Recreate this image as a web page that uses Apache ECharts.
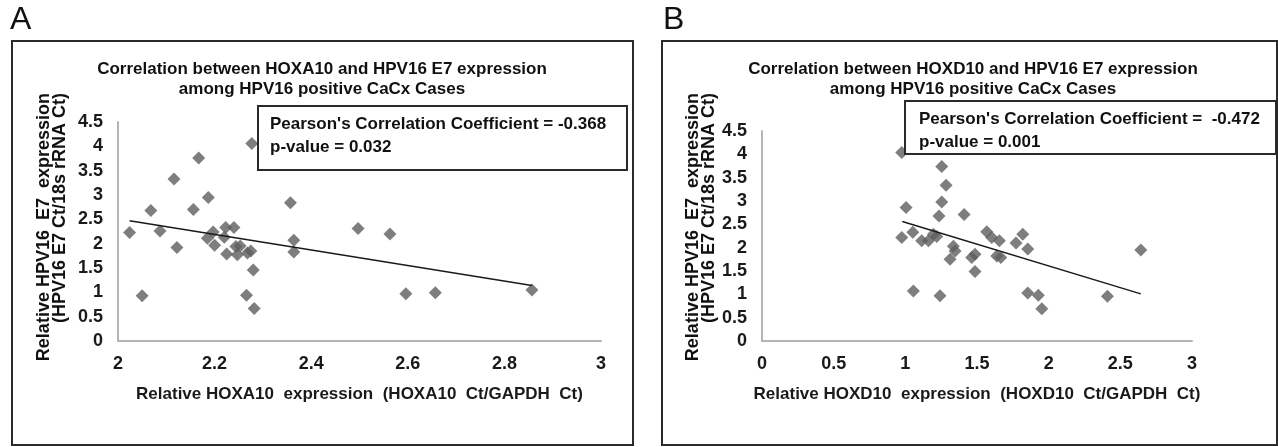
<!DOCTYPE html>
<html>
<head>
<meta charset="utf-8">
<script src="https://cdn.jsdelivr.net/npm/echarts@6/dist/echarts.min.js"></script>
<style>
html,body{margin:0;padding:0;background:#fff;}
#chart{width:1278px;height:447px;}
</style>
</head>
<body>
<div id="chart"></div>
<script>
// Panel A: HOXA10 vs HPV16 E7
var hoxa10 = [2.024, 2.050, 2.068, 2.087, 2.122, 2.116, 2.156, 2.167, 2.187, 2.185, 2.197, 2.200, 2.223, 2.220, 2.225, 2.240, 2.244, 2.253, 2.247, 2.268, 2.275, 2.280, 2.266, 2.282, 2.277, 2.357, 2.364, 2.364, 2.497, 2.563, 2.596, 2.657, 2.857];
var e7A    = [2.23, 0.93, 2.68, 2.26, 1.92, 3.33, 2.70, 3.76, 2.95, 2.11, 2.24, 1.97, 2.33, 2.13, 1.79, 2.33, 1.94, 1.95, 1.77, 1.81, 1.85, 1.46, 0.94, 0.67, 4.06, 2.84, 2.07, 1.83, 2.31, 2.20, 0.97, 0.99, 1.05];
var trendAx = [2.024, 2.857];
var trendAy = [2.47, 1.14];

// Panel B: HOXD10 vs HPV16 E7
var hoxd10 = [0.975, 1.254, 1.284, 1.254, 1.005, 1.235, 1.410, 0.975, 1.052, 1.114, 1.161, 1.196, 1.219, 1.335, 1.347, 1.312, 1.463, 1.486, 1.486, 1.056, 1.242, 1.568, 1.603, 1.656, 1.638, 1.666, 1.819, 1.772, 1.854, 1.854, 1.928, 1.952, 2.410, 2.643];
var e7B    = [4.04, 3.74, 3.34, 2.98, 2.86, 2.68, 2.71, 2.22, 2.33, 2.15, 2.15, 2.29, 2.24, 2.03, 1.93, 1.75, 1.79, 1.86, 1.49, 1.07, 0.97, 2.34, 2.22, 2.15, 1.82, 1.79, 2.29, 2.10, 1.97, 1.03, 0.98, 0.69, 0.96, 1.95];
var trendBx = [0.979, 2.643];
var trendBy = [2.56, 1.01];

var titleA = ['Correlation between HOXA10 and HPV16 E7 expression', 'among HPV16 positive CaCx Cases'];
var titleB = ['Correlation between HOXD10 and HPV16 E7 expression', 'among HPV16 positive CaCx Cases'];
var statsA = ["Pearson's Correlation Coefficient = -0.368", 'p-value = 0.032'];
var statsB = ["Pearson's Correlation Coefficient =  -0.472", 'p-value = 0.001'];
var xNameA = 'Relative HOXA10  expression  (HOXA10  Ct/GAPDH  Ct)';
var xNameB = 'Relative HOXD10  expression  (HOXD10  Ct/GAPDH  Ct)';
var yName1 = 'Relative HPV16  E7  expression';
var yName2 = '(HPV16 E7 Ct/18s rRNA Ct)';

function zip(a, b) { return a.map(function (v, i) { return [v, b[i]]; }); }

var NARROW = "'Liberation Sans Narrow','Arial Narrow','Liberation Sans',sans-serif";
var WIDE = "'Liberation Sans',Arial,sans-serif";

var chart = echarts.init(document.getElementById('chart'));

function axisX(idx, min, max, interval, name) {
  return {
    type: 'value', gridIndex: idx, min: min, max: max, interval: interval,
    name: name, nameLocation: 'middle', nameGap: 45,
    nameTextStyle: { fontFamily: NARROW, fontWeight: 'bold', fontSize: 17, color: '#1a1a1a' },
    axisLine: { show: true, lineStyle: { color: '#b4b4b4', width: 2 } },
    axisTick: { show: false }, splitLine: { show: false },
    axisLabel: { fontFamily: NARROW, fontWeight: 'bold', fontSize: 18, color: '#1a1a1a', margin: 14 }
  };
}
function axisY(idx) {
  return {
    type: 'value', gridIndex: idx, min: 0, max: 4.5, interval: 0.5,
    axisLine: { show: true, lineStyle: { color: '#b4b4b4', width: 2 } },
    axisTick: { show: false }, splitLine: { show: false },
    axisLabel: { fontFamily: NARROW, fontWeight: 'bold', fontSize: 18, color: '#1a1a1a', margin: 15 }
  };
}

function scatter(idx, xs, ys) {
  return {
    type: 'scatter', xAxisIndex: idx, yAxisIndex: idx, data: zip(xs, ys),
    symbol: 'diamond', symbolSize: 13, itemStyle: { color: '#5e5e5e' }, z: 3
  };
}
function trend(idx, xs, ys) {
  return {
    type: 'line', xAxisIndex: idx, yAxisIndex: idx, data: zip(xs, ys),
    symbol: 'none', lineStyle: { color: '#1a1a1a', width: 1.5 }, z: 4
  };
}

function txt(x, y, text, font, size, weight, align, rot) {
  return {
    type: 'text', x: x, y: y, rotation: rot || 0, z: 10,
    style: { text: text, fontFamily: font, fontSize: size, fontWeight: weight || 'normal',
             fill: '#111', textAlign: align || 'left', textVerticalAlign: 'middle' }
  };
}
function box(x, y, w, h, lw) {
  return { type: 'rect', shape: { x: x, y: y, width: w, height: h }, z: 9,
           style: { fill: 'rgba(0,0,0,0)', stroke: '#2a2a2a', lineWidth: lw || 2 } };
}
function boxFilled(x, y, w, h) {
  return { type: 'rect', shape: { x: x, y: y, width: w, height: h }, z: 9,
           style: { fill: '#fff', stroke: '#2a2a2a', lineWidth: 2 } };
}

var option = {
  backgroundColor: '#fff',
  animation: false,
  grid: [
    { left: 118, right: 677, top: 122, bottom: 106 },
    { left: 762, right: 86, top: 131, bottom: 106 }
  ],
  xAxis: [axisX(0, 2, 3, 0.2, xNameA), axisX(1, 0, 3, 0.5, xNameB)],
  yAxis: [axisY(0), axisY(1)],
  series: [scatter(0, hoxa10, e7A), trend(0, trendAx, trendAy),
           scatter(1, hoxd10, e7B), trend(1, trendBx, trendBy)],
  graphic: [
    box(12, 41, 621, 404),
    box(662, 41, 615, 404),
    txt(10, 20, 'A', WIDE, 32, 'normal'),
    txt(663, 20, 'B', WIDE, 32, 'normal'),
    txt(322, 69, titleA[0], NARROW, 17, 'bold', 'center'),
    txt(322, 89, titleA[1], NARROW, 17, 'bold', 'center'),
    txt(973, 69, titleB[0], NARROW, 17, 'bold', 'center'),
    txt(973, 89, titleB[1], NARROW, 17, 'bold', 'center'),
    boxFilled(258, 106, 369, 64),
    txt(270, 124, statsA[0], NARROW, 17, 'bold'),
    txt(270, 147, statsA[1], NARROW, 17, 'bold'),
    boxFilled(905, 101, 371, 53),
    txt(919, 119, statsB[0], NARROW, 17, 'bold'),
    txt(919, 142, statsB[1], NARROW, 17, 'bold'),
    txt(44, 93, yName1, WIDE, 18, 'bold', 'right', Math.PI / 2),
    txt(60, 93, yName2, WIDE, 18, 'bold', 'right', Math.PI / 2),
    txt(693, 93, yName1, WIDE, 18, 'bold', 'right', Math.PI / 2),
    txt(709, 93, yName2, WIDE, 18, 'bold', 'right', Math.PI / 2)
  ]
};
chart.setOption(option);
</script>
</body>
</html>
